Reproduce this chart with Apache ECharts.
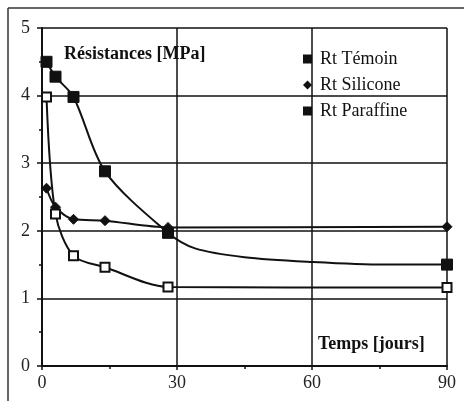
<!DOCTYPE html>
<html><head><meta charset="utf-8">
<script src="https://cdn.jsdelivr.net/npm/echarts@6/dist/echarts.min.js"></script>
<style>html,body{margin:0;padding:0;background:#fff}#c{width:464px;height:401px}</style>
</head><body><div id="c"></div>
<script>
const days = [1, 3, 7, 14, 28, 90];
const temoin = [4.5, 4.28, 3.98, 2.88, 1.97, 1.5];
const silicone = [2.63, 2.35, 2.17, 2.15, 2.05, 2.06];
const paraffine = [3.98, 2.25, 1.63, 1.46, 1.17, 1.16];
// unmarked points read along the drawn Témoin curve between day 28 and day 90
const temoinTraceDays = [34, 45, 60, 76];
const temoinTraceVals = [1.74, 1.61, 1.54, 1.5];
const xTicks = [0, 30, 60, 90];
const yTicks = [0, 1, 2, 3, 4, 5];

function pts(xs, ys) { return xs.map((x, i) => [x, ys[i]]); }
const temoinData = pts(days, temoin).concat(
  pts(temoinTraceDays, temoinTraceVals).map(p => ({value: p, symbol: 'none'}))
).sort((a, b) => (Array.isArray(a) ? a[0] : a.value[0]) - (Array.isArray(b) ? b[0] : b.value[0]));

const font = '"Liberation Serif", "Times New Roman", serif';
const chart = echarts.init(document.getElementById('c'));
chart.setOption({
  animation: false,
  backgroundColor: '#fff',
  grid: {left: 42, right: 17, top: 28, bottom: 35},
  xAxis: {
    type: 'value', min: 0, max: 90, interval: 30,
    axisLine: {show: true, onZero: false, lineStyle: {color: '#111', width: 2}},
    axisTick: {show: true, inside: false, length: 4, lineStyle: {color: '#111', width: 1.5}},
    minorTick: {show: true, splitNumber: 2, length: 3, lineStyle: {color: '#111', width: 1.5}},
    splitLine: {show: true, lineStyle: {color: '#111', width: 1.5}},
    axisLabel: {color: '#222', fontFamily: font, fontSize: 18, margin: 8,
      formatter: v => xTicks.includes(v) ? String(v) : ''}
  },
  yAxis: {
    type: 'value', min: 0, max: 5, interval: 1,
    axisLine: {show: true, onZero: false, lineStyle: {color: '#111', width: 2}},
    axisTick: {show: true, length: 5, lineStyle: {color: '#111', width: 1.5}},
    minorTick: {show: true, splitNumber: 2, length: 3, lineStyle: {color: '#111', width: 1.5}},
    splitLine: {show: true, lineStyle: {color: '#111', width: 1.5}},
    axisLabel: {color: '#222', fontFamily: font, fontSize: 18, margin: 12,
      formatter: v => yTicks.includes(v) ? String(v) : ''}
  },
  legend: {
    orient: 'vertical', left: 303, top: 50, padding: 0, itemWidth: 9, itemHeight: 9, itemGap: 8,
    textStyle: {fontFamily: font, fontSize: 18, lineHeight: 18, color: '#111', padding: [0, 0, 0, 3]},
    data: [
      {name: 'Rt Témoin', icon: 'rect', itemStyle: {color: '#111', borderWidth: 0}},
      {name: 'Rt Silicone', icon: 'diamond', itemStyle: {color: '#111', borderWidth: 0}},
      {name: 'Rt Paraffine', icon: 'rect', itemStyle: {color: '#111', borderWidth: 0}}
    ]
  },
  graphic: [
    {type: 'line', shape: {x1: 8, y1: 8, x2: 464, y2: 8}, style: {stroke: '#333', lineWidth: 1.5}},
    {type: 'line', shape: {x1: 8, y1: 8, x2: 8, y2: 401}, style: {stroke: '#333', lineWidth: 1.5}},
    {type: 'text', left: 64, top: 45, style: {text: 'Résistances [MPa]', font: 'bold 18px ' + font, fill: '#111'}},
    {type: 'text', left: 318, top: 335, style: {text: 'Temps [jours]', font: 'bold 18px ' + font, fill: '#111'}}
  ],
  series: [
    {name: 'Rt Témoin', type: 'line', smooth: 0.3, data: temoinData,
      symbol: 'rect', symbolSize: 11, showAllSymbol: true,
      lineStyle: {color: '#111', width: 2}, itemStyle: {color: '#111', borderColor: '#111'}},
    {name: 'Rt Silicone', type: 'line', smooth: 0.3, data: pts(days, silicone),
      symbol: 'diamond', symbolSize: 10,
      lineStyle: {color: '#111', width: 2}, itemStyle: {color: '#111', borderColor: '#111'}},
    {name: 'Rt Paraffine', type: 'line', smooth: 0.3, data: pts(days, paraffine),
      symbol: 'rect', symbolSize: 9,
      lineStyle: {color: '#111', width: 2}, itemStyle: {color: '#fff', borderColor: '#111', borderWidth: 2}}
  ]
});
</script></body></html>
